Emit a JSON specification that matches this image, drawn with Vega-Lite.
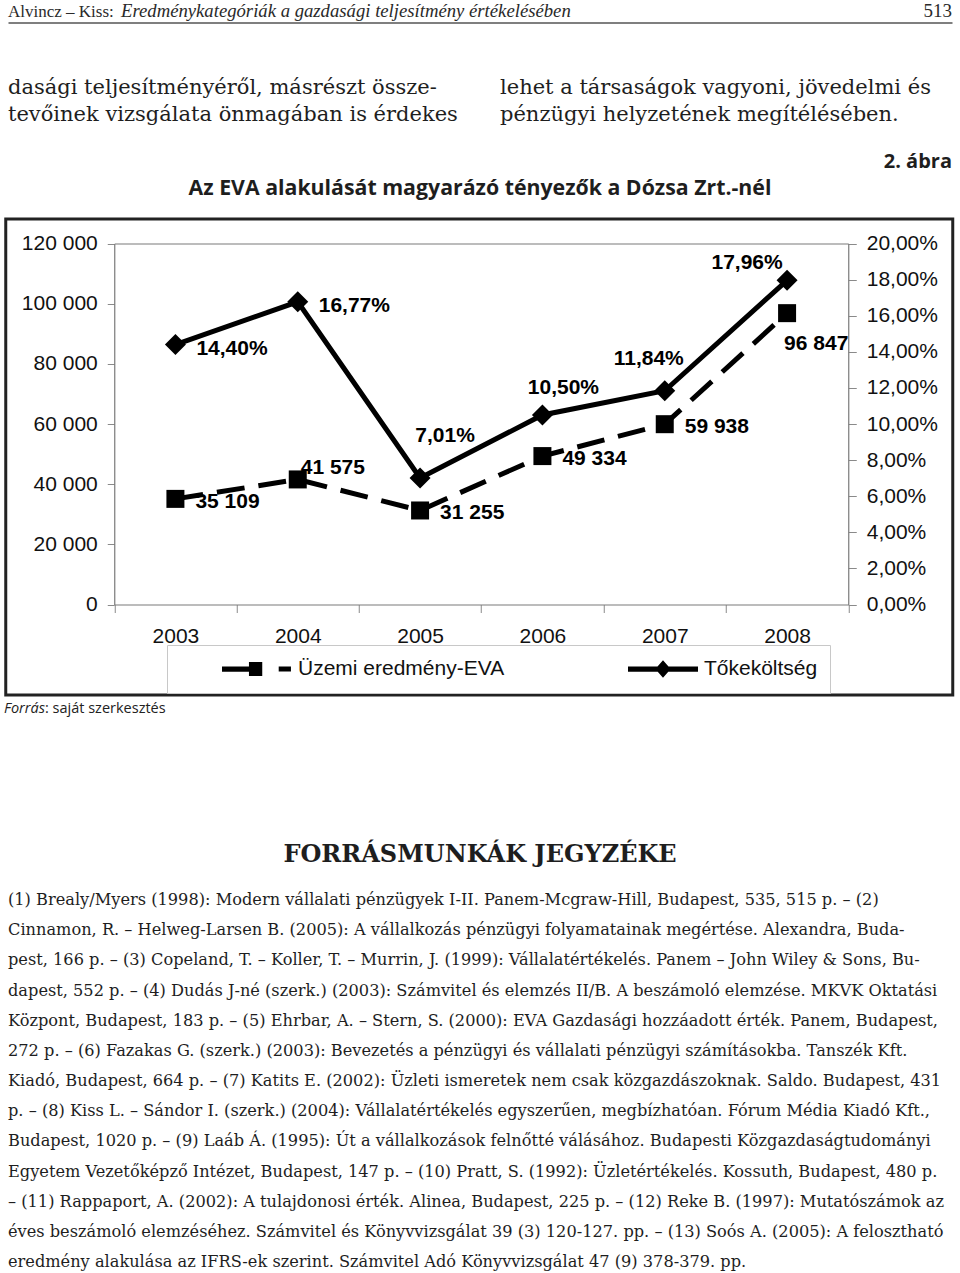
{
  "$schema": "https://vega.github.io/schema/vega-lite/v6.json",
  "background": "white",
  "padding": 0,
  "spacing": 0,
  "center": true,
  "config": {
    "view": {"stroke": null},
    "locale": {"number": {"decimal": ",", "thousands": " ", "grouping": [3], "currency": ["", ""]}},
    "axis": {"grid": false, "title": null}
  },
  "datasets": {
    "page": [
      {"kind": "author", "line": 1, "col": 0, "text": "Alvincz – Kiss:"},
      {"kind": "runningTitle", "line": 1, "col": 1, "text": "Eredménykategóriák a gazdasági teljesítmény értékelésében"},
      {"kind": "pageNumber", "line": 1, "col": 4, "text": "513"},
      {"kind": "body", "line": 2, "col": 0, "text": "dasági teljesítményéről, másrészt össze-"},
      {"kind": "body", "line": 3, "col": 0, "text": "tevőinek vizsgálata önmagában is érdekes"},
      {"kind": "body", "line": 2, "col": 3, "text": "lehet a társaságok vagyoni, jövedelmi és"},
      {"kind": "body", "line": 3, "col": 3, "text": "pénzügyi helyzetének megítélésében."},
      {"kind": "figureNumber", "line": 4, "col": 4, "text": "2. ábra"},
      {"kind": "figureTitle", "line": 5, "col": 2, "text": "Az EVA alakulását magyarázó tényezők a Dózsa Zrt.-nél"}
    ],
    "figure": [
      {"year": 2003, "eva": 35109, "cost": 0.1440},
      {"year": 2004, "eva": 41575, "cost": 0.1677},
      {"year": 2005, "eva": 31255, "cost": 0.0701},
      {"year": 2006, "eva": 49334, "cost": 0.1050},
      {"year": 2007, "eva": 59938, "cost": 0.1184},
      {"year": 2008, "eva": 96847, "cost": 0.1796}
    ],
    "series": [
      {"series": "Üzemi eredmény-EVA"},
      {"series": "Tőkeköltség"}
    ],
    "bottom": [
      {"kind": "sourceLabel", "line": 1, "col": 0, "text": "Forrás"},
      {"kind": "sourceText", "line": 1, "col": 2, "text": ": saját szerkesztés"},
      {"kind": "heading", "line": 2, "col": 3, "text": "FORRÁSMUNKÁK JEGYZÉKE"},
      {"kind": "reference", "line": 3, "col": 1, "text": "(1) Brealy/Myers (1998): Modern vállalati pénzügyek I-II. Panem-Mcgraw-Hill, Budapest, 535, 515 p. – (2)"},
      {"kind": "reference", "line": 4, "col": 1, "text": "Cinnamon, R. – Helweg-Larsen B. (2005): A vállalkozás pénzügyi folyamatainak megértése. Alexandra, Buda-"},
      {"kind": "reference", "line": 5, "col": 1, "text": "pest, 166 p. – (3) Copeland, T. – Koller, T. – Murrin, J. (1999): Vállalatértékelés. Panem – John Wiley & Sons, Bu-"},
      {"kind": "reference", "line": 6, "col": 1, "text": "dapest, 552 p. – (4) Dudás J-né (szerk.) (2003): Számvitel és elemzés II/B. A beszámoló elemzése. MKVK Oktatási"},
      {"kind": "reference", "line": 7, "col": 1, "text": "Központ, Budapest, 183 p. – (5) Ehrbar, A. – Stern, S. (2000): EVA Gazdasági hozzáadott érték. Panem, Budapest,"},
      {"kind": "reference", "line": 8, "col": 1, "text": "272 p. – (6) Fazakas G. (szerk.) (2003): Bevezetés a pénzügyi és vállalati pénzügyi számításokba. Tanszék Kft."},
      {"kind": "reference", "line": 9, "col": 1, "text": "Kiadó, Budapest, 664 p. – (7) Katits E. (2002): Üzleti ismeretek nem csak közgazdászoknak. Saldo. Budapest, 431"},
      {"kind": "reference", "line": 10, "col": 1, "text": "p. – (8) Kiss L. – Sándor I. (szerk.) (2004): Vállalatértékelés egyszerűen, megbízhatóan. Fórum Média Kiadó Kft.,"},
      {"kind": "reference", "line": 11, "col": 1, "text": "Budapest, 1020 p. – (9) Laáb Á. (1995): Út a vállalkozások felnőtté válásához. Budapesti Közgazdaságtudományi"},
      {"kind": "reference", "line": 12, "col": 1, "text": "Egyetem Vezetőképző Intézet, Budapest, 147 p. – (10) Pratt, S. (1992): Üzletértékelés. Kossuth, Budapest, 480 p."},
      {"kind": "reference", "line": 13, "col": 1, "text": "– (11) Rappaport, A. (2002): A tulajdonosi érték. Alinea, Budapest, 225 p. – (12) Reke B. (1997): Mutatószámok az"},
      {"kind": "reference", "line": 14, "col": 1, "text": "éves beszámoló elemzéséhez. Számvitel és Könyvvizsgálat 39 (3) 120-127. pp. – (13) Soós A. (2005): A felosztható"},
      {"kind": "reference", "line": 15, "col": 1, "text": "eredmény alakulása az IFRS-ek szerint. Számvitel Adó Könyvvizsgálat 47 (9) 378-379. pp."}
    ]
  },
  "vconcat": [
    {
      "width": 960,
      "height": 217,
      "data": {"name": "page"},
      "encoding": {
        "x": {"field": "col", "type": "quantitative",
              "axis": {"orient": "top", "offset": -22.5, "labels": false, "ticks": false, "domain": true, "domainColor": "#555555", "domainWidth": 1.5, "title": null, "grid": false},
              "scale": {"domain": [0, 1, 2, 3, 4], "range": [8, 121, 480, 500, 952], "nice": false, "zero": false}},
        "y": {"field": "line", "type": "quantitative", "axis": null,
              "scale": {"domain": [1, 2, 3, 4, 5], "range": [16.7, 94, 120.7, 168.3, 195], "nice": false, "zero": false}},
        "text": {"field": "text", "type": "nominal"}
      },
      "layer": [
        {"transform": [{"filter": "datum.kind === 'author'"}],
         "mark": {"type": "text", "align": "left", "baseline": "alphabetic", "font": "Liberation Serif", "fontSize": 17, "color": "#2a2a2a"}},
        {"transform": [{"filter": "datum.kind === 'runningTitle'"}],
         "mark": {"type": "text", "align": "left", "baseline": "alphabetic", "font": "Liberation Serif", "fontStyle": "italic", "fontSize": 18.7, "color": "#2a2a2a"}},
        {"transform": [{"filter": "datum.kind === 'pageNumber'"}],
         "mark": {"type": "text", "align": "right", "baseline": "alphabetic", "font": "Liberation Serif", "fontSize": 19, "color": "#2a2a2a"}},
        {"transform": [{"filter": "datum.kind === 'body'"}],
         "mark": {"type": "text", "align": "left", "baseline": "alphabetic", "font": "DejaVu Serif", "fontSize": 21, "color": "#1e1e1e"}},
        {"transform": [{"filter": "datum.kind === 'figureNumber'"}],
         "mark": {"type": "text", "align": "right", "baseline": "alphabetic", "font": "Open Sans", "fontWeight": "bold", "fontSize": 20, "color": "#1e1e1e"}},
        {"transform": [{"filter": "datum.kind === 'figureTitle'"}],
         "mark": {"type": "text", "align": "center", "baseline": "alphabetic", "font": "Open Sans", "fontWeight": "bold", "fontSize": 21.3, "color": "#1e1e1e"}}
      ]
    },
    {
      "width": 947,
      "height": 476,
      "view": {"stroke": "#222222", "strokeWidth": 3, "fill": "white"},
      "data": {"name": "figure"},
      "layer": [
        {
          "encoding": {
            "x": {"field": "year", "type": "ordinal",
                  "scale": {"type": "band", "range": [108.5, 842.5], "paddingInner": 0, "paddingOuter": 0},
                  "axis": {"orient": "bottom", "offset": -90.5, "tickBand": "extent", "tickSize": 8, "tickColor": "#8a8a8a",
                           "domainColor": "#7a7a7a", "domainWidth": 1.2, "labelFont": "Liberation Sans", "labelFontSize": 21,
                           "labelColor": "#111111", "labelPadding": 13, "labelAngle": 0, "title": null}},
            "y": {"field": "eva", "type": "quantitative",
                  "scale": {"domain": [0, 120000], "range": [385.5, 24.5], "nice": false},
                  "axis": {"orient": "left", "offset": -108.5, "values": [0, 20000, 40000, 60000, 80000, 100000, 120000],
                           "format": ",.0f", "tickSize": 7, "tickColor": "#8a8a8a", "domainColor": "#7a7a7a", "domainWidth": 1.2,
                           "labelFont": "Liberation Sans", "labelFontSize": 21, "labelColor": "#111111", "labelPadding": 10, "title": null}}
          },
          "layer": [
            {"mark": {"type": "line", "color": "black", "strokeWidth": 5, "strokeDash": [28, 14]}},
            {"mark": {"type": "point", "shape": "square", "filled": true, "size": 324, "color": "black", "opacity": 1}},
            {"transform": [{"filter": "indexof([2003, 2005, 2006, 2007], datum.year) >= 0"}],
             "mark": {"type": "text", "align": "left", "baseline": "middle", "dx": 20, "dy": 3, "font": "Liberation Sans", "fontWeight": "bold", "fontSize": 21, "color": "black"},
             "encoding": {"text": {"field": "eva", "type": "quantitative", "format": ",.0f"}}},
            {"transform": [{"filter": "datum.year === 2004"}],
             "mark": {"type": "text", "align": "left", "baseline": "middle", "dx": 3, "dy": -11, "font": "Liberation Sans", "fontWeight": "bold", "fontSize": 21, "color": "black"},
             "encoding": {"text": {"field": "eva", "type": "quantitative", "format": ",.0f"}}},
            {"transform": [{"filter": "datum.year === 2008"}],
             "mark": {"type": "text", "align": "left", "baseline": "middle", "dx": -3, "dy": 31, "font": "Liberation Sans", "fontWeight": "bold", "fontSize": 21, "color": "black"},
             "encoding": {"text": {"field": "eva", "type": "quantitative", "format": ",.0f"}}}
          ]
        },
        {
          "encoding": {
            "x": {"field": "year", "type": "ordinal",
                  "scale": {"type": "band", "range": [108.5, 842.5], "paddingInner": 0, "paddingOuter": 0},
                  "axis": {"orient": "top", "offset": -24.5, "labels": false, "ticks": false, "domainColor": "#7a7a7a", "domainWidth": 1.2, "title": null}},
            "y": {"field": "cost", "type": "quantitative",
                  "scale": {"domain": [0, 0.2], "range": [385.5, 24.5], "nice": false},
                  "axis": {"orient": "right", "offset": -104.5, "values": [0, 0.02, 0.04, 0.06, 0.08, 0.1, 0.12, 0.14, 0.16, 0.18, 0.2],
                           "format": ".2%", "tickSize": 8, "tickColor": "#8a8a8a", "domainColor": "#7a7a7a", "domainWidth": 1.2,
                           "labelFont": "Liberation Sans", "labelFontSize": 21, "labelColor": "#111111", "labelPadding": 10, "title": null}}
          },
          "layer": [
            {"mark": {"type": "line", "color": "black", "strokeWidth": 5}},
            {"mark": {"type": "point", "shape": "diamond", "filled": true, "size": 441, "color": "black", "opacity": 1}},
            {"transform": [{"filter": "datum.year <= 2004"}],
             "mark": {"type": "text", "align": "left", "baseline": "middle", "dx": 21, "dy": 4, "font": "Liberation Sans", "fontWeight": "bold", "fontSize": 21, "color": "black"},
             "encoding": {"text": {"field": "cost", "type": "quantitative", "format": ".2%"}}},
            {"transform": [{"filter": "datum.year === 2005"}],
             "mark": {"type": "text", "align": "center", "baseline": "middle", "dx": 25, "dy": -42, "font": "Liberation Sans", "fontWeight": "bold", "fontSize": 21, "color": "black"},
             "encoding": {"text": {"field": "cost", "type": "quantitative", "format": ".2%"}}},
            {"transform": [{"filter": "datum.year === 2006"}],
             "mark": {"type": "text", "align": "center", "baseline": "middle", "dx": 21, "dy": -27, "font": "Liberation Sans", "fontWeight": "bold", "fontSize": 21, "color": "black"},
             "encoding": {"text": {"field": "cost", "type": "quantitative", "format": ".2%"}}},
            {"transform": [{"filter": "datum.year === 2007"}],
             "mark": {"type": "text", "align": "center", "baseline": "middle", "dx": -16, "dy": -32, "font": "Liberation Sans", "fontWeight": "bold", "fontSize": 21, "color": "black"},
             "encoding": {"text": {"field": "cost", "type": "quantitative", "format": ".2%"}}},
            {"transform": [{"filter": "datum.year === 2008"}],
             "mark": {"type": "text", "align": "center", "baseline": "middle", "dx": -40, "dy": -17, "font": "Liberation Sans", "fontWeight": "bold", "fontSize": 21, "color": "black"},
             "encoding": {"text": {"field": "cost", "type": "quantitative", "format": ".2%"}}}
          ]
        },
        {
          "data": {"name": "series"},
          "mark": {"type": "point", "filled": true, "opacity": 0, "color": "black"},
          "encoding": {
            "shape": {"field": "series", "type": "nominal",
                      "scale": {"domain": ["Üzemi eredmény-EVA", "Tőkeköltség"],
                                "range": ["M-1,-0.075H-0.23V0.075H-1Z M-0.23,-0.2H0.15V0.2H-0.23Z M0.62,-0.07H0.97V0.07H0.62Z",
                                          "M-1,-0.075H1V0.075H-1Z M0,-0.25L0.22,0L0,0.25L-0.22,0Z"]},
                      "legend": {"orient": "none", "legendX": 167, "legendY": 645, "direction": "horizontal",
                                 "title": "\u00a0", "titleOrient": "left", "titleFontSize": 10, "titlePadding": 43,
                                 "symbolSize": 4900, "clipHeight": 24, "symbolFillColor": "black", "symbolStrokeWidth": 0, "symbolOpacity": 1,
                                 "labelFont": "Liberation Sans", "labelFontSize": 21, "labelColor": "#111111", "labelOffset": 6, "labelLimit": 400,
                                 "columnPadding": 123, "padding": 12, "strokeColor": "#c8c8c8", "fillColor": "white", "cornerRadius": 0}}
          }
        }
      ],
      "resolve": {"scale": {"y": "independent"}, "axis": {"x": "independent", "y": "independent"}}
    },
    {
      "width": 960,
      "height": 577,
      "data": {"name": "bottom"},
      "encoding": {
        "x": {"field": "col", "type": "quantitative", "axis": null,
              "scale": {"domain": [0, 1, 2, 3], "range": [4, 8, 45, 480], "nice": false, "zero": false}},
        "y": {"field": "line", "type": "quantitative", "axis": null,
              "scale": {"domain": [1, 2, 3, 15], "range": [15.7, 165, 208, 570], "nice": false, "zero": false}},
        "text": {"field": "text", "type": "nominal"}
      },
      "layer": [
        {"transform": [{"filter": "datum.kind === 'sourceLabel'"}],
         "mark": {"type": "text", "align": "left", "baseline": "alphabetic", "font": "Open Sans", "fontStyle": "italic", "fontSize": 14.5, "color": "#222222"}},
        {"transform": [{"filter": "datum.kind === 'sourceText'"}],
         "mark": {"type": "text", "align": "left", "baseline": "alphabetic", "font": "Open Sans", "fontSize": 14.5, "color": "#222222"}},
        {"transform": [{"filter": "datum.kind === 'heading'"}],
         "mark": {"type": "text", "align": "center", "baseline": "alphabetic", "font": "DejaVu Serif", "fontWeight": "bold", "fontSize": 24, "color": "#1e1e1e"}},
        {"transform": [{"filter": "datum.kind === 'reference'"}],
         "mark": {"type": "text", "align": "left", "baseline": "alphabetic", "font": "DejaVu Serif", "fontSize": 16.2, "color": "#1e1e1e"}}
      ]
    }
  ]
}
